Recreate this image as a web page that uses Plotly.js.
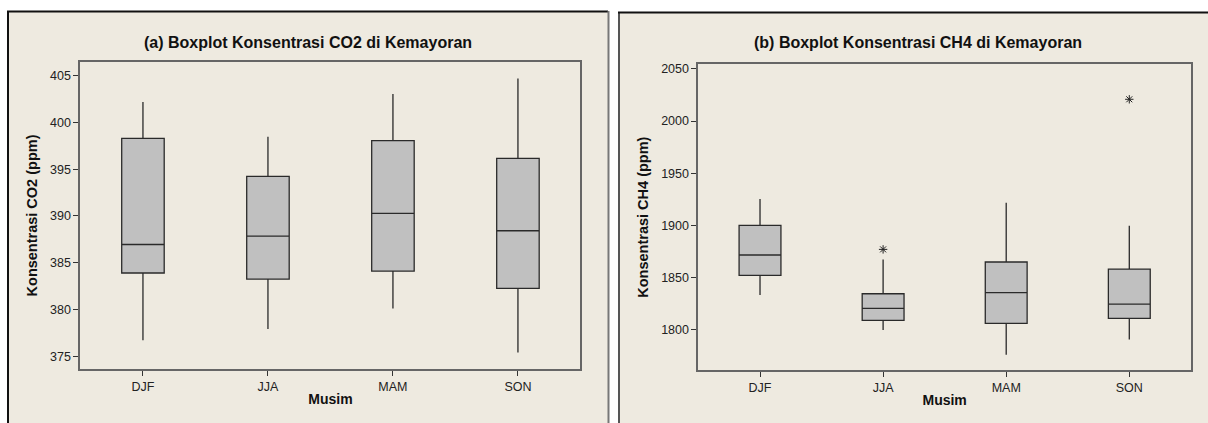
<!DOCTYPE html>
<html>
<head>
<meta charset="utf-8">
<script src="https://cdn.plot.ly/plotly-3.0.1.min.js"></script>
<style>html,body{margin:0;padding:0;background:#fff;}#chart{width:1208px;height:423px;}</style>
</head>
<body>
<div id="chart"></div>
<script>
// Seasons (Musim)
const seasons = ["DJF", "JJA", "MAM", "SON"];

// (a) CO2 concentration (ppm) box statistics
const co2Lower  = [376.7, 377.9, 380.1, 375.4];
const co2Q1     = [383.9, 383.25, 384.1, 382.25];
const co2Median = [386.95, 387.85, 390.27, 388.42];
const co2Q3     = [398.3, 394.23, 398.05, 396.16];
const co2Upper  = [402.2, 398.47, 403.04, 404.7];

// (b) CH4 concentration box statistics
const ch4Lower  = [1832.9, 1799.3, 1775.7, 1790.4];
const ch4Q1     = [1851.9, 1808.6, 1805.8, 1810.5];
const ch4Median = [1871.4, 1820.1, 1835.2, 1824.3];
const ch4Q3     = [1899.9, 1834.2, 1864.7, 1857.9];
const ch4Upper  = [1925.2, 1867.2, 1921.6, 1899.6];

// CH4 outliers
const ch4OutlierSeason = ["JJA", "SON"];
const ch4OutlierValue  = [1876.8, 2020.9];

const co2Ticks = [375, 380, 385, 390, 395, 400, 405];
const ch4Ticks = [1800, 1850, 1900, 1950, 2000, 2050];

const FONT = "Liberation Sans, Arial, sans-serif";
const boxStyle = {
  type: "box", fillcolor: "#C0C0C0",
  line: {color: "#2a2a2a", width: 1.3},
  whiskerwidth: 0, width: 0.34, boxpoints: false,
  hoverinfo: "y", showlegend: false
};

const traces = [
  Object.assign({}, boxStyle, {
    x: seasons, q1: co2Q1, median: co2Median, q3: co2Q3,
    lowerfence: co2Lower, upperfence: co2Upper,
    xaxis: "x", yaxis: "y", name: "CO2"
  }),
  Object.assign({}, boxStyle, {
    x: seasons, q1: ch4Q1, median: ch4Median, q3: ch4Q3,
    lowerfence: ch4Lower, upperfence: ch4Upper,
    xaxis: "x2", yaxis: "y2", name: "CH4"
  }),
  {
    type: "scatter", mode: "markers",
    x: ch4OutlierSeason, y: ch4OutlierValue,
    xaxis: "x2", yaxis: "y2", showlegend: false,
    marker: {symbol: "asterisk-open", size: 7, color: "#222", line: {color: "#222", width: 1}}
  }
];

const tickFont = {family: FONT, size: 12.5, color: "#222"};
const titleFont = {family: FONT, size: 14, color: "#111", weight: "bold"};

function xAxis(domain) {
  return {
    domain: domain, type: "category", categoryorder: "array", categoryarray: seasons,
    range: [-0.5, 3.5], showgrid: false, zeroline: false,
    showline: true, mirror: true, linecolor: "#666", linewidth: 2,
    ticks: "outside", ticklen: 5, tickcolor: "#333", tickwidth: 1,
    tickfont: tickFont, fixedrange: true,
    title: {text: "<b>Musim</b>", font: titleFont, standoff: 1}
  };
}
function yAxis(domain, range, ticks, title, anchor) {
  return {
    domain: domain, range: range, anchor: anchor,
    tickmode: "array", tickvals: ticks, ticktext: ticks.map(String),
    showgrid: false, zeroline: false,
    showline: true, mirror: true, linecolor: "#666", linewidth: 2,
    ticks: "outside", ticklen: 5, tickcolor: "#333", tickwidth: 1,
    tickfont: tickFont, fixedrange: true,
    title: {text: "<b>" + title + "</b>", font: {family: FONT, size: 14.5, color: "#111"}, standoff: 9}
  };
}

const layout = {
  width: 1208, height: 423,
  margin: {l: 0, r: 0, t: 0, b: 0},
  paper_bgcolor: "#ffffff", plot_bgcolor: "#ffffff",
  font: {family: FONT},
  xaxis: Object.assign(xAxis([0.0666, 0.4805]), {anchor: "y"}),
  yaxis: yAxis([0.127, 0.8541], [373.6, 406.5], co2Ticks, "Konsentrasi CO2 (ppm)", "x"),
  xaxis2: Object.assign(xAxis([0.5782, 0.9858]), {anchor: "y2"}),
  yaxis2: yAxis([0.1253, 0.848], [1761, 2054.5], ch4Ticks, "Konsentrasi CH4 (ppm)", "x2"),
  shapes: [
    // panel backgrounds
    {type: "rect", xref: "paper", yref: "paper", layer: "below",
     x0: 7.5/1208, x1: 608/1208, y0: -0.01, y1: 1 - 11/423,
     fillcolor: "#EEEAE0", line: {width: 0}},
    {type: "rect", xref: "paper", yref: "paper", layer: "below",
     x0: 618.5/1208, x1: 1.01, y0: -0.01, y1: 1 - 12/423,
     fillcolor: "#EEEAE0", line: {width: 0}},
    // left panel borders
    {type: "line", xref: "paper", yref: "paper", x0: 8/1208, x1: 8/1208, y0: 0, y1: 1 - 11/423, line: {color: "#111", width: 2}},
    {type: "line", xref: "paper", yref: "paper", x0: 7/1208, x1: 608/1208, y0: 1 - 11.5/423, y1: 1 - 11.5/423, line: {color: "#111", width: 2}},
    {type: "line", xref: "paper", yref: "paper", x0: 608.5/1208, x1: 608.5/1208, y0: 0, y1: 1 - 11/423, line: {color: "#777", width: 2}},
    // right panel borders
    {type: "line", xref: "paper", yref: "paper", x0: 619/1208, x1: 619/1208, y0: 0, y1: 1 - 12/423, line: {color: "#555", width: 2}},
    {type: "line", xref: "paper", yref: "paper", x0: 618/1208, x1: 1, y0: 1 - 12.5/423, y1: 1 - 12.5/423, line: {color: "#111", width: 2}}
  ],
  annotations: [
    {text: "<b>(a) Boxplot Konsentrasi CO2 di Kemayoran</b>", xref: "paper", yref: "paper",
     x: 308/1208, y: 1 - 42/423, xanchor: "center", yanchor: "middle", showarrow: false,
     font: {family: FONT, size: 16, color: "#111"}},
    {text: "<b>(b) Boxplot Konsentrasi CH4 di Kemayoran</b>", xref: "paper", yref: "paper",
     x: 918/1208, y: 1 - 42/423, xanchor: "center", yanchor: "middle", showarrow: false,
     font: {family: FONT, size: 16, color: "#111"}}
  ]
};

Plotly.newPlot("chart", traces, layout, {displayModeBar: false, staticPlot: true});
</script>
</body>
</html>
